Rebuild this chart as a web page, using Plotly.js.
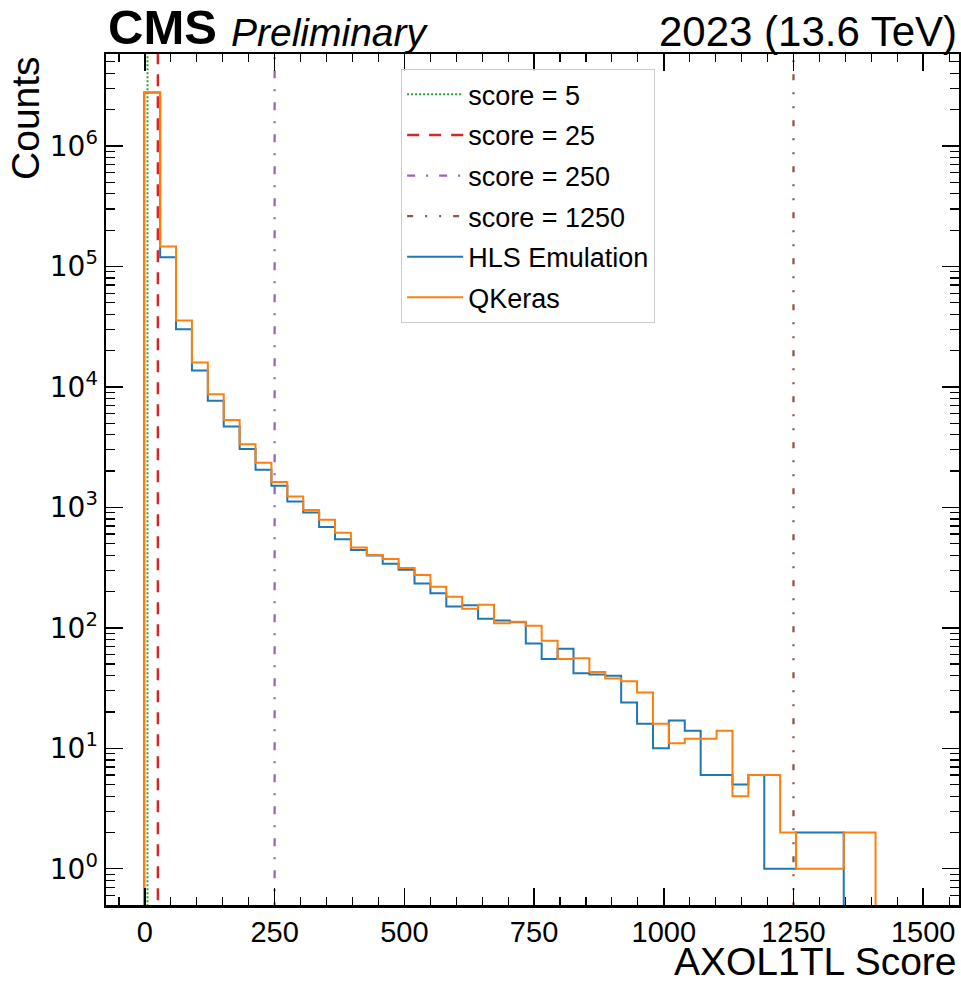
<!DOCTYPE html>
<html>
<head>
<meta charset="utf-8">
<script src="https://cdn.plot.ly/plotly-3.0.1.min.js"></script>
<style>
  html, body { margin: 0; padding: 0; background: #ffffff; }
  #chart { width: 961px; height: 983px; }
</style>
</head>
<body>
<div id="chart"></div>
<script>
// ---------------- data ----------------
const binStart = -1.3;      // left edge of first bin (score units)
const binWidth = 30.64;     // bin width (score units)

const hlsCounts = [2780000, 119000, 30100, 13700, 7650, 4680, 3050, 2050, 1510, 1120,
                   906, 685, 544, 443, 398, 340, 303, 233, 194, 150,
                   154, 119, 115, 111, 74, 55, 67, 42, 41, 40,
                   24, 16, 10, 17, 14, 6, 6, 5, 6, 1,
                   1, 2, 2, 2, 0, 0];
const qkerasCounts = [2770000, 146000, 35500, 15900, 8700, 5320, 3340, 2350, 1620, 1230,
                      948, 788, 614, 463, 403, 372, 313, 274, 219, 181,
                      144, 155, 109, 112, 104, 78, 55, 56, 43, 38,
                      36, 29, 16, 11, 12, 12, 14, 4, 6, 6,
                      2, 1, 1, 1, 2, 2];

const thresholdScores = [5, 25, 250, 1250];
const thresholdNames  = ["score = 5", "score = 25", "score = 250", "score = 1250"];

const xTickVals = [0, 250, 500, 750, 1000, 1250, 1500];
const xTickText = ["0", "250", "500", "750", "1000", "1250", "1500"];
const yTickVals = [1, 10, 100, 1000, 10000, 100000, 1000000];
const yTickText = ["10<sup>0</sup>", "10<sup>1</sup>", "10<sup>2</sup>", "10<sup>3</sup>",
                   "10<sup>4</sup>", "10<sup>5</sup>", "10<sup>6</sup>"];

// ---------------- helpers ----------------
const FLOOR = 1e-3; // below visible range -> line drops to the bottom
function stepTrace(counts, name, color, group) {
  const n = counts.length;
  const edges = [];
  for (let i = 0; i <= n; i++) edges.push(binStart + i * binWidth);
  const xs = [edges[0]], ys = [FLOOR];
  for (let i = 0; i < n; i++) { xs.push(edges[i]); ys.push(counts[i] > 0 ? counts[i] : FLOOR); }
  xs.push(edges[n]); ys.push(counts[n - 1] > 0 ? counts[n - 1] : FLOOR);
  xs.push(edges[n]); ys.push(FLOOR);
  return { type: "scatter", mode: "lines", x: xs, y: ys, name: name, legendgroup: group,
           line: { color: color, width: 2, shape: "hv" }, hoverinfo: "skip" };
}

const lineStyles = [
  { color: "#2ca02c", dash: "2px,2px", width: 2 },
  { color: "#d62728", dash: "12px,10px", width: 2.5 },
  { color: "#9467bd", dash: "8px,11px,2px,11px", width: 2.3 },
  { color: "#8c564b", dash: "6px,12px,2px,12px,2px,12px", width: 2.3 }
];

const traces = [];
thresholdScores.forEach((s, i) => {
  traces.push({ type: "scatter", mode: "lines", x: [s, s], y: [FLOOR, 1e9], legendgroup: "g" + i,
                name: thresholdNames[i], line: lineStyles[i], hoverinfo: "skip" });
});
traces.push(stepTrace(hlsCounts, "HLS Emulation", "#1f77b4", "g4"));
traces.push(stepTrace(qkerasCounts, "QKeras", "#ff7f0e", "g5"));

// minor ticks on log axis (2..9 per decade)
const yMinor = [];
for (let d = -1; d <= 6; d++) for (let k = 2; k <= 9; k++) yMinor.push(k * Math.pow(10, d));

const FONT = "Liberation Sans, Arial, Helvetica, sans-serif";

const layout = {
  width: 961, height: 983,
  margin: { l: 106, r: 2, t: 54, b: 78 },
  paper_bgcolor: "#ffffff", plot_bgcolor: "#ffffff",
  showlegend: true,
  font: { family: FONT, color: "#000000" },
  xaxis: {
    range: [-75, 1569],
    showline: true, linecolor: "#000000", linewidth: 2.5, mirror: "allticks",
    ticks: "inside", ticklen: 17, tickwidth: 1.5, tickcolor: "#000000",
    tickmode: "array", tickvals: xTickVals, ticktext: xTickText,
    tickfont: { family: FONT, size: 29, color: "#000000" },
    minor: { tickmode: "linear", tick0: 0, dtick: 50, ticks: "inside", ticklen: 8,
             tickwidth: 1.2, tickcolor: "#000000", showgrid: false },
    showgrid: false, zeroline: false
  },
  yaxis: {
    type: "log", range: [-0.301, 6.763],
    showline: true, linecolor: "#000000", linewidth: 2.5, mirror: "allticks",
    ticks: "inside", ticklen: 17, tickwidth: 1.5, tickcolor: "#000000",
    tickmode: "array", tickvals: yTickVals, ticktext: yTickText,
    tickfont: { family: "DejaVu Sans, sans-serif", size: 28, color: "#000000" },
    minor: { tickmode: "array", tickvals: yMinor, ticks: "inside", ticklen: 9,
             tickwidth: 1.2, tickcolor: "#000000", showgrid: false },
    showgrid: false, zeroline: false
  },
  legend: {
    x: 0.346, y: 0.982, xanchor: "left", yanchor: "top",
    bgcolor: "rgba(255,255,255,0.8)", bordercolor: "#cccccc", borderwidth: 1,
    font: { family: FONT, size: 27, color: "#000000" },
    traceorder: "grouped", tracegroupgap: 2.5, itemwidth: 56
  },
  annotations: [
    { text: "<b>CMS</b>", xref: "paper", yref: "paper", x: 0, y: 1, xanchor: "left", yanchor: "bottom",
      showarrow: false, font: { family: FONT, size: 49, color: "#000000" }, yshift: -2 },
    { text: "<i>Preliminary</i>", xref: "paper", yref: "paper", x: 0.144, y: 1, xanchor: "left", yanchor: "bottom",
      showarrow: false, font: { family: FONT, size: 39, color: "#000000" }, yshift: -2 },
    { text: "2023 (13.6 TeV)", xref: "paper", yref: "paper", x: 1, y: 1, xanchor: "right", yanchor: "bottom",
      showarrow: false, font: { family: FONT, size: 42, color: "#000000" }, yshift: -3 },
    { text: "Counts", xref: "paper", yref: "paper", x: -0.095, y: 1, xanchor: "center", yanchor: "top",
      textangle: -90, showarrow: false, font: { family: FONT, size: 39, color: "#000000" } },
    { text: "AXOL1TL Score", xref: "paper", yref: "paper", x: 1, y: 0, xanchor: "right", yanchor: "top",
      showarrow: false, font: { family: FONT, size: 39, color: "#000000" }, yshift: -33 }
  ]
};

Plotly.newPlot("chart", traces, layout, { displayModeBar: false, staticPlot: true });
</script>
</body>
</html>
